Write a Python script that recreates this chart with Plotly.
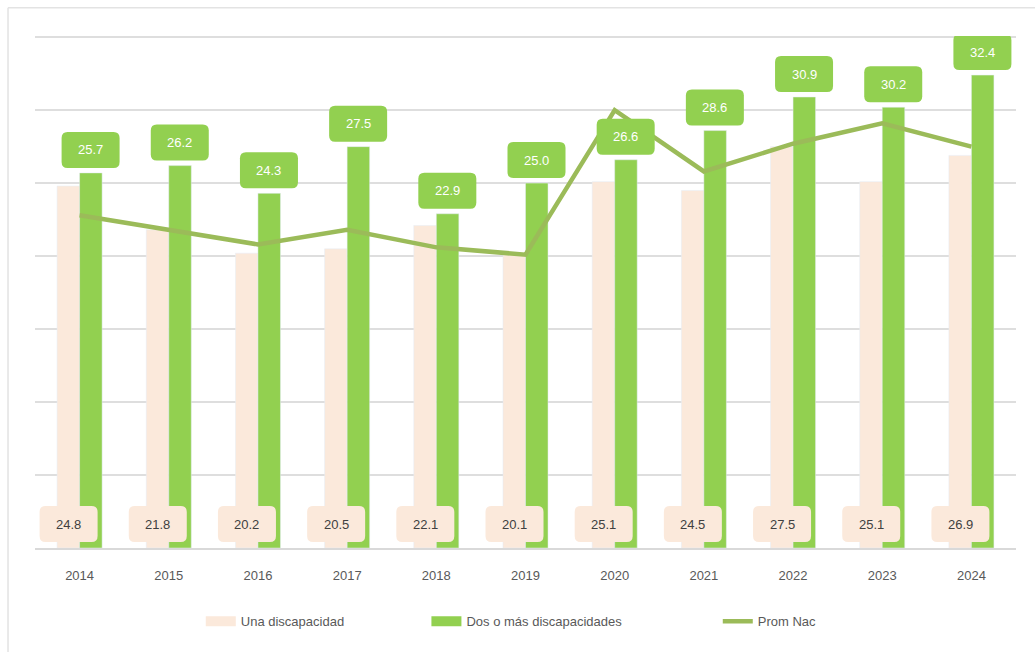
import plotly.graph_objects as go

years = ["2014", "2015", "2016", "2017", "2018", "2019", "2020", "2021", "2022", "2023", "2024"]
una = [24.8, 21.8, 20.2, 20.5, 22.1, 20.1, 25.1, 24.5, 27.5, 25.1, 26.9]
dos = [25.7, 26.2, 24.3, 27.5, 22.9, 25.0, 26.6, 28.6, 30.9, 30.2, 32.4]
prom = [22.8, 21.8, 20.8, 21.8, 20.6, 20.1, 30.0, 25.8, 27.7, 29.1, 27.5]

PEACH = "#FBE9DB"
GREEN = "#92D050"
OLIVE = "#9BBB59"
TXT = "#595959"
FONT = "Liberation Sans"


def rounded(x0, x1, y0, y1, r=6):
    return (f"M{x0 + r},{y0} L{x1 - r},{y0} Q{x1},{y0} {x1},{y0 + r} L{x1},{y1 - r} "
            f"Q{x1},{y1} {x1 - r},{y1} L{x0 + r},{y1} Q{x0},{y1} {x0},{y1 - r} "
            f"L{x0},{y0 + r} Q{x0},{y0} {x0 + r},{y0} Z")


fig = go.Figure()
fig.add_trace(go.Bar(x=years, y=una, name="Una discapacidad", marker_color=PEACH, showlegend=False))
fig.add_trace(go.Bar(x=years, y=dos, name="Dos o más discapacidades", marker_color=GREEN, showlegend=False))
fig.add_trace(go.Scatter(x=years, y=prom, name="Prom Nac", mode="lines",
                         line=dict(color=OLIVE, width=4.5), showlegend=False))
# legend entries (wide swatches like the original), one legend each to spread them out
fig.add_trace(go.Scatter(x=[None], y=[None], name="Una discapacidad", mode="lines",
                         line=dict(color=PEACH, width=12), legend="legend"))
fig.add_trace(go.Scatter(x=[None], y=[None], name="Dos o más discapacidades", mode="lines",
                         line=dict(color=GREEN, width=12), legend="legend2"))
fig.add_trace(go.Scatter(x=[None], y=[None], name="Prom Nac", mode="lines",
                         line=dict(color=OLIVE, width=4.5), legend="legend3"))

annotations = []
shapes = [
    dict(type="line", xref="paper", yref="paper", x0=-0.0275, x1=1.02, y0=1.055, y1=1.055,
         line=dict(color="#E3E3E3", width=1.5)),
    dict(type="line", xref="paper", yref="paper", x0=-0.0275, x1=-0.0275, y0=1.055, y1=-0.21,
         line=dict(color="#E3E3E3", width=1.5)),
]
for i, v in enumerate(dos):
    shapes.append(dict(type="path", xref="x", yref="y", xsizemode="pixel", ysizemode="pixel",
                       xanchor=i, yanchor=v, path=rounded(-18, 40, 5, 41),
                       fillcolor=GREEN, line=dict(width=0)))
    annotations.append(dict(x=i, y=v, xref="x", yref="y", text=f"{v:.1f}", showarrow=False,
                            yanchor="middle", yshift=23, xshift=11,
                            font=dict(family=FONT, size=13, color="white")))
for i, v in enumerate(una):
    shapes.append(dict(type="path", xref="x", yref="y", xsizemode="pixel", ysizemode="pixel",
                       xanchor=i, yanchor=0, path=rounded(-40, 18, 6, 42),
                       fillcolor=PEACH, line=dict(width=0)))
    annotations.append(dict(x=i, y=0, xref="x", yref="y", text=f"{v:.1f}", showarrow=False,
                            yanchor="middle", yshift=24, xshift=-11,
                            font=dict(family=FONT, size=13, color="#404040")))

leg = dict(orientation="h", xanchor="left", y=-0.143, yanchor="middle",
           font=dict(family=FONT, size=13, color=TXT), bgcolor="rgba(0,0,0,0)")
fig.update_layout(
    width=1035, height=652,
    margin=dict(l=35, r=19, t=36, b=104),
    paper_bgcolor="white", plot_bgcolor="white",
    barmode="group", bargap=0.495, bargroupgap=0,
    showlegend=True,
    legend=dict(leg, x=0.169),
    legend2=dict(leg, x=0.399),
    legend3=dict(leg, x=0.696),
    annotations=annotations,
    shapes=shapes,
    font=dict(family=FONT, color=TXT),
)
fig.update_xaxes(type="category", range=[-0.5, len(years) - 0.5], showgrid=False, showline=True,
                 linecolor="#D9D9D9", linewidth=2, ticks="", ticklabelstandoff=14,
                 tickfont=dict(family=FONT, size=13, color=TXT))
fig.update_yaxes(range=[0, 35.08], dtick=5, showticklabels=False, showgrid=True,
                 gridcolor="#DEDEDE", gridwidth=2, zeroline=False, showline=False)

fig.write_html("out.html", config={"displayModeBar": False},
               post_script="document.body.style.margin='0';")
